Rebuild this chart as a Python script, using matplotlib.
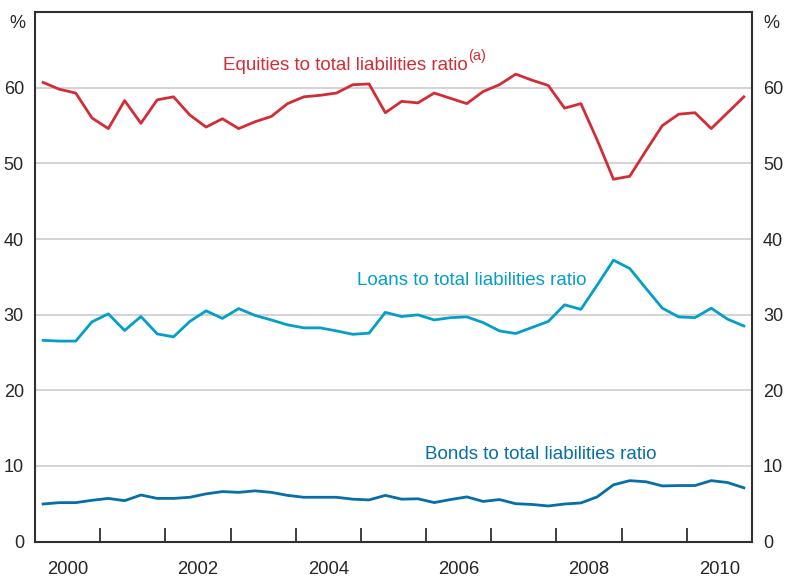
import numpy as np
import matplotlib
matplotlib.use("Agg")
import matplotlib.pyplot as plt
from matplotlib.ticker import FixedLocator, NullFormatter

plt.rcParams['font.family'] = ['Liberation Sans', 'DejaVu Sans']

# quarterly observations, 2000 Q1 .. 2010 Q4
quarters = np.arange(44) * 0.25 + 2000.125

equities = [60.7, 59.8, 59.3, 56.0, 54.6, 58.3, 55.3, 58.4, 58.8, 56.4,
            54.8, 55.9, 54.6, 55.5, 56.2, 57.9, 58.8, 59.0, 59.3, 60.4,
            60.5, 56.7, 58.2, 58.0, 59.3, 58.6, 57.9, 59.5, 60.4, 61.8,
            61.0, 60.3, 57.3, 57.9, 53.1, 47.9, 48.3, 51.7, 55.0, 56.5,
            56.7, 54.6, 56.7, 58.8]
loans = [26.6, 26.5, 26.5, 29.05, 30.1, 27.9, 29.75, 27.45, 27.06, 29.1,
         30.5, 29.5, 30.8, 29.9, 29.3, 28.65, 28.25, 28.25, 27.85, 27.4,
         27.55, 30.3, 29.75, 29.97, 29.3, 29.6, 29.7, 28.95, 27.85, 27.5,
         28.3, 29.1, 31.3, 30.7, 33.9, 37.2, 36.1, 33.45, 30.85, 29.7,
         29.6, 30.85, 29.4, 28.5]
bonds = [4.96, 5.14, 5.14, 5.45, 5.7, 5.4, 6.15, 5.7, 5.7, 5.85,
         6.3, 6.6, 6.5, 6.7, 6.5, 6.1, 5.85, 5.85, 5.85, 5.6,
         5.5, 6.1, 5.6, 5.65, 5.15, 5.55, 5.9, 5.3, 5.55, 5.0,
         4.9, 4.7, 4.96, 5.1, 5.9, 7.5, 8.05, 7.9, 7.35, 7.4,
         7.4, 8.05, 7.8, 7.1]

year_labels = ['2000', '2002', '2004', '2006', '2008', '2010']
y_ticks = [0, 10, 20, 30, 40, 50, 60]

RED = '#d22d36'
CYAN = '#049fc8'
BLUE = '#066ea9'
SPINE = '#303030'
TXT = '#262626'

fig = plt.figure(figsize=(7.88, 5.77), dpi=100)
ax = fig.add_axes([0.0444, 0.0615, 0.9099, 0.9175])

ax.plot(quarters, equities, color=RED, lw=2.0, zorder=3)
ax.plot(quarters, loans, color=CYAN, lw=2.0, zorder=3)
ax.plot(quarters, bonds, color=BLUE, lw=2.0, zorder=3)

ax.set_xlim(2000, 2011)
ax.set_ylim(0, 70)

# grid
for v in y_ticks[1:]:
    ax.axhline(v, color='#c8c8c8', lw=1.1, zorder=1)

# y ticks on both sides
ax.set_yticks(y_ticks)
ax.tick_params(axis='y', which='both', length=0, labelsize=13, colors=TXT,
               left=True, right=True, labelleft=True, labelright=True, pad=8)

# x ticks at year boundaries, labels mid-year
ax.xaxis.set_major_locator(FixedLocator(np.arange(2001, 2011)))
ax.xaxis.set_major_formatter(NullFormatter())
ax.xaxis.set_minor_locator(FixedLocator([int(y) + 0.5 for y in year_labels]))
ax.set_xticklabels(year_labels, minor=True)
ax.tick_params(axis='x', which='major', direction='in', length=10, width=1.3,
               color=SPINE)
ax.tick_params(axis='x', which='minor', length=0, pad=14, labelsize=13.3,
               colors=TXT)

for s in ax.spines.values():
    s.set_color(SPINE)
    s.set_linewidth(1.5)

fig.text(17 / 788, 1 - 23 / 577, '%', fontsize=13, color=TXT, ha='center', va='center')
fig.text(771 / 788, 1 - 23 / 577, '%', fontsize=13, color=TXT, ha='center', va='center')

eq_txt = ax.text(2002.88, 62.3, 'Equities to total liabilities ratio',
                 color=RED, fontsize=13.5, ha='left', va='baseline')
ax.text(2004.94, 33.94, 'Loans to total liabilities ratio',
        color=CYAN, fontsize=13.5, ha='left', va='baseline')
ax.text(2005.98, 10.92, 'Bonds to total liabilities ratio',
        color=BLUE, fontsize=13.5, ha='left', va='baseline')

# superscript (a) placed right after the equities label
fig.canvas.draw()
bb = eq_txt.get_window_extent(renderer=fig.canvas.get_renderer())
x_end, _ = ax.transData.inverted().transform((bb.x1, bb.y0))
ax.annotate('(a)', xy=(x_end, 62.3), xycoords='data', xytext=(0.5, 7.5),
            textcoords='offset points', color=RED, fontsize=10.5,
            ha='left', va='baseline')

fig.savefig('out.png', dpi=100)
